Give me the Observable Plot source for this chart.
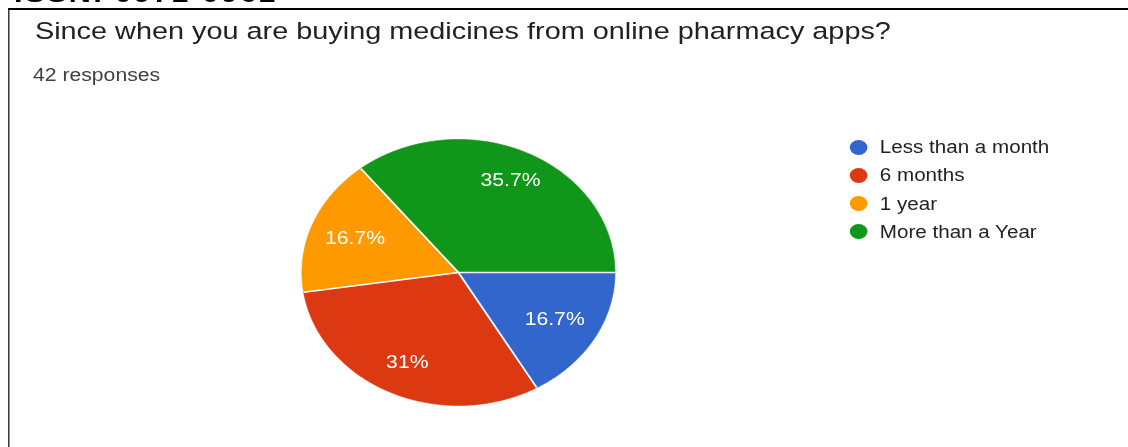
<!DOCTYPE html>
<html>
<head>
<meta charset="utf-8">
<script src="https://cdn.jsdelivr.net/npm/d3@7"></script>
<script src="https://cdn.jsdelivr.net/npm/@observablehq/plot@0.6"></script>
<style>
  html, body { margin: 0; padding: 0; background: #fff; overflow: hidden; width: 1128px; height: 447px; }
  #stage { position: absolute; left: 0; top: 0; width: 958px; height: 447px; transform: scaleX(1.177); transform-origin: 0 0; font-family: Arial, "Liberation Sans", sans-serif; }
  #issn { position: absolute; left: 12px; top: -20px; font-size: 26px; font-weight: bold; line-height: 26px; letter-spacing: 1.5px; color: #000; white-space: nowrap; }
  #frame { position: absolute; left: 6.8px; top: 8px; right: -20px; bottom: -20px; border-left: 1.8px solid #000; border-top: 2px solid #000; }
  #title { position: absolute; left: 29.7px; top: 18.5px; font-size: 24.5px; line-height: 24px; color: #202124; white-space: nowrap; }
  #subtitle { position: absolute; left: 28px; top: 65.7px; font-size: 18px; line-height: 18px; color: #3c4043; white-space: nowrap; }
  #chart { position: absolute; left: 0; top: 0; }
  #legend { position: absolute; left: 722px; top: 137px; }
  .row { position: relative; height: 28.3px; }
  .sw { position: absolute; left: 0; top: 2.5px; width: 15px; height: 15px; border-radius: 50%; }
  .lb { position: absolute; left: 25.5px; top: 0; font-size: 17.5px; line-height: 20px; color: #222; white-space: nowrap; }
</style>
</head>
<body>
<div id="stage">
  <div id="issn"></div>
  <div id="frame"></div>
  <div id="chart"></div>
  <div id="title"></div>
  <div id="subtitle"></div>
  <div id="legend"></div>
</div>
<script>
// ---- data ----
const headerText = "ISSN: 0971-0961";
const titleText = "Since when you are buying medicines from online pharmacy apps?";
const subtitleText = "42 responses";
const categories = ["Less than a month", "6 months", "1 year", "More than a Year"];
const counts = [7, 13, 7, 15];
const colors = ["#3366cc", "#dc3912", "#ff9900", "#109618"];

document.getElementById("issn").textContent = headerText;
document.getElementById("title").textContent = titleText;
document.getElementById("subtitle").textContent = subtitleText;

const total = d3.sum(counts);
const arcs = d3.pie().sort(null)
  .startAngle(Math.PI / 2).endAngle(Math.PI / 2 + 2 * Math.PI)(counts);

// slice outlines
const slicePts = [];
arcs.forEach((a, i) => {
  const cat = categories[i];
  slicePts.push({cat, x: 0, y: 0});
  const n = Math.max(2, Math.ceil((a.endAngle - a.startAngle) / (Math.PI / 360)));
  for (let k = 0; k <= n; k++) {
    const t = a.startAngle + (a.endAngle - a.startAngle) * k / n;
    slicePts.push({cat, x: Math.sin(t), y: Math.cos(t)});
  }
  slicePts.push({cat, x: 0, y: 0});
});
const seams = arcs.map((a, i) => ({x1: 0, y1: 0, x2: Math.sin(a.startAngle), y2: Math.cos(a.startAngle)}));
const fmt = v => { const s = d3.format(".1f")(v); return (s.endsWith(".0") ? s.slice(0, -2) : s) + "%"; };
const labels = arcs.map((a, i) => {
  const m = (a.startAngle + a.endAngle) / 2;
  const k = 0.66 + 0.3 * (a.endAngle - a.startAngle) / (2 * Math.PI);
  return {x: k * Math.sin(m), y: k * Math.cos(m), text: fmt(counts[i] / total * 100)};
});

const cx = 389, cy = 272, r = 133;
const plot = Plot.plot({
  width: 958,
  height: 447,
  margin: 0,
  style: {background: "transparent", fontFamily: "Arial, 'Liberation Sans', sans-serif"},
  x: {domain: [-1, 1], range: [cx - r, cx + r], axis: null},
  y: {domain: [-1, 1], range: [cy + r, cy - r], axis: null},
  color: {domain: categories, range: colors},
  marks: [
    Plot.line(slicePts, {x: "x", y: "y", z: "cat", fill: "cat", stroke: "cat", strokeWidth: 0.6, curve: "linear"}),
    Plot.link(seams, {x1: "x1", y1: "y1", x2: "x2", y2: "y2", stroke: "#fff", strokeWidth: 1.6}),
    Plot.text(labels, {x: "x", y: "y", text: "text", fill: "#fff", fontSize: 18})
  ]
});
document.getElementById("chart").appendChild(plot);

// legend
const lg = document.getElementById("legend");
categories.forEach((c, i) => {
  const row = document.createElement("div"); row.className = "row";
  const sw = document.createElement("div"); sw.className = "sw"; sw.style.background = colors[i];
  const lb = document.createElement("div"); lb.className = "lb"; lb.textContent = c;
  row.appendChild(sw); row.appendChild(lb); lg.appendChild(row);
});
</script>
</body>
</html>
